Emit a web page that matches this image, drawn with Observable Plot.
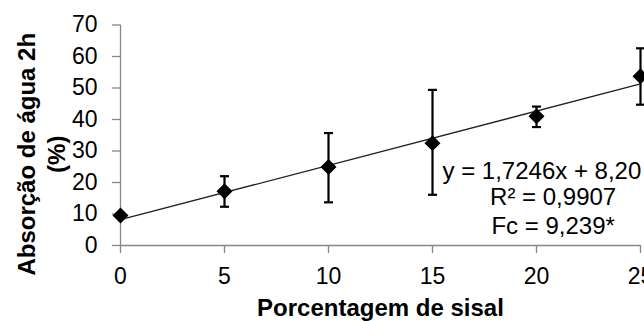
<!DOCTYPE html>
<html>
<head>
<meta charset="utf-8">
<script src="https://cdn.jsdelivr.net/npm/d3@7"></script>
<script src="https://cdn.jsdelivr.net/npm/@observablehq/plot@0.6"></script>
<style>
  html, body { margin: 0; padding: 0; background: #fff; }
</style>
</head>
<body>
<div id="chart"></div>
<script>
// Data
const sisal = [0, 5, 10, 15, 20, 25];
const absorcao = [9.5, 17.2, 24.9, 32.5, 41.0, 53.7];
const errLow = [9.5, 12.3, 13.7, 16.1, 37.6, 44.7];
const errHigh = [9.5, 22.0, 35.7, 49.4, 44.1, 62.6];

// Regression line endpoints (y = 1,7246x + 8,20)
const fitX = [0, 25];
const fitY = [8.2, 51.3];

const xTicks = [0, 5, 10, 15, 20, 25];
const yTicks = [0, 10, 20, 30, 40, 50, 60, 70];

const xTitle = "Porcentagem de sisal";
const yTitle = "Absorção de água 2h\n(%)";
const eqLines = ["y = 1,7246x + 8,20", "R² = 0,9907", "Fc = 9,239*"];

const points = sisal.map((x, i) => ({x, y: absorcao[i], lo: errLow[i], hi: errHigh[i]}));
const fit = fitX.map((x, i) => ({x, y: fitY[i]}));

const cap = {
  draw(context) {
    context.moveTo(-4.5, 0);
    context.lineTo(4.5, 0);
  }
};

const font = "'Liberation Sans', Arial, Helvetica, sans-serif";
const axisGray = "#878787";

const chart = Plot.plot({
  width: 644,
  height: 321,
  marginLeft: 120,
  marginRight: 4,
  marginTop: 24.5,
  marginBottom: 76,
  style: {fontFamily: font, fontSize: "23px", color: "#000", background: "#fff", overflow: "visible"},
  x: {domain: [0, 25]},
  y: {domain: [0, 70]},
  marks: [
    Plot.ruleX([0], {stroke: axisGray, strokeWidth: 1.3}),
    Plot.ruleY([0], {stroke: axisGray, strokeWidth: 1.3}),
    Plot.axisY({ticks: yTicks, tickSize: 8, tickPadding: 15, stroke: axisGray, strokeWidth: 1.3, label: null, fill: "#000"}),
    Plot.axisX({ticks: xTicks, tickSize: 8, tickPadding: 14, stroke: axisGray, strokeWidth: 1.3, label: null, fill: "#000"}),
    Plot.line(fit, {x: "x", y: "y", stroke: "#222", strokeWidth: 1.3}),
    Plot.ruleX(points.filter(d => d.hi > d.lo), {x: "x", y1: "lo", y2: "hi", stroke: "#000", strokeWidth: 2.2}),
    Plot.dot(points.filter(d => d.hi > d.lo), {x: "x", y: "lo", symbol: cap, fill: "none", stroke: "#000", strokeWidth: 2.2}),
    Plot.dot(points.filter(d => d.hi > d.lo), {x: "x", y: "hi", symbol: cap, fill: "none", stroke: "#000", strokeWidth: 2.2}),
    Plot.dot(points, {x: "x", y: "y", symbol: "diamond2", r: 7.2, fill: "#000", stroke: "none"}),
    Plot.text([eqLines[0]], {x: 15.48, y: 23.7, textAnchor: "start", lineAnchor: "middle", fill: "#000", fontSize: 24}),
    Plot.text([eqLines[1]], {x: 20.8, y: 15.3, textAnchor: "middle", lineAnchor: "middle", fill: "#000", fontSize: 24}),
    Plot.text([eqLines[2]], {x: 20.8, y: 6.2, textAnchor: "middle", lineAnchor: "middle", fill: "#000", fontSize: 24}),
    Plot.text([xTitle], {frameAnchor: "bottom", dy: 63, textAnchor: "middle", lineAnchor: "middle", fontWeight: "bold", fontSize: 24, fill: "#000"}),
    Plot.text([yTitle], {frameAnchor: "left", dx: -80, dy: 19, rotate: -90, textAnchor: "middle", lineAnchor: "middle", lineHeight: 1.25, fontWeight: "bold", fontSize: 24, fill: "#000"})
  ]
});

document.getElementById("chart").appendChild(chart);
</script>
</body>
</html>
